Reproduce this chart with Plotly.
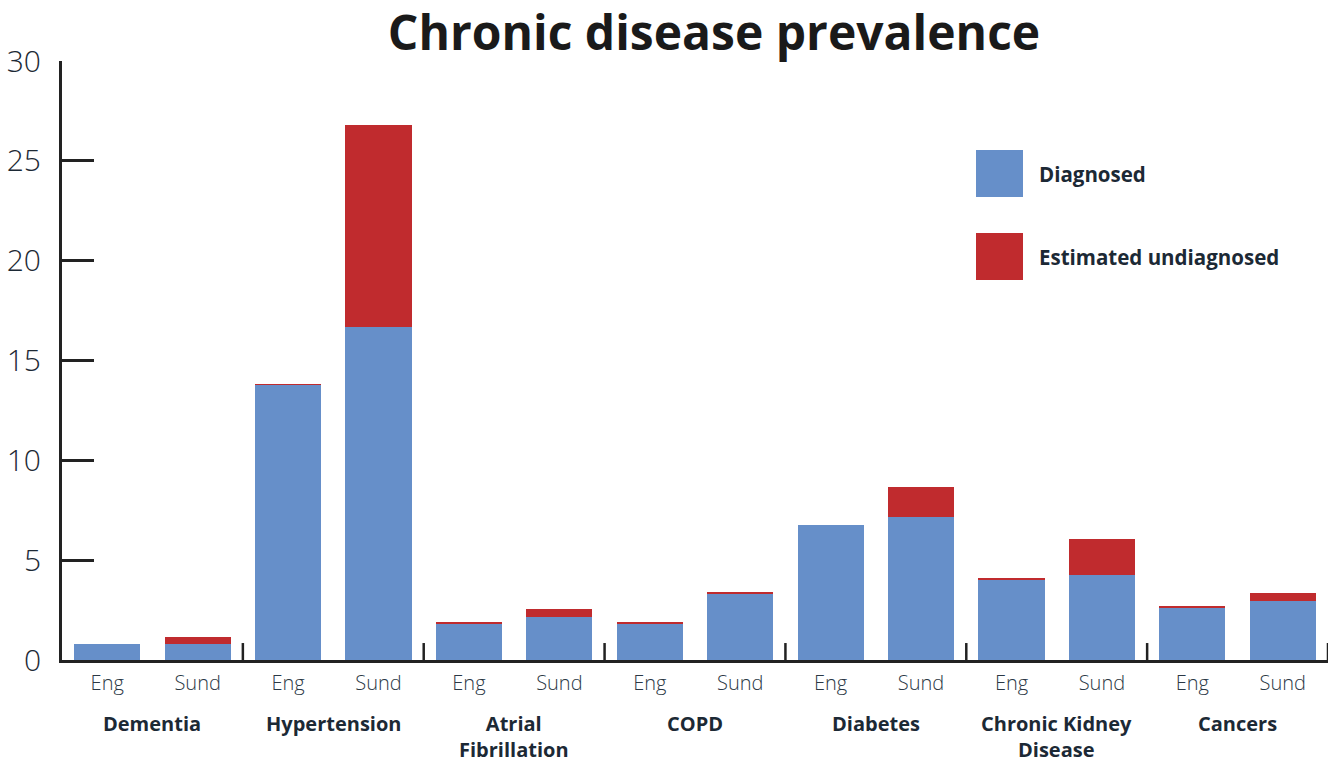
import plotly.graph_objects as go

groups = ["Dementia", "Hypertension", "Atrial<br>Fibrillation", "COPD", "Diabetes",
          "Chronic Kidney<br>Disease", "Cancers"]
areas = ["Eng", "Sund"]
diagnosed = [0.8, 0.8, 13.8, 16.7, 1.85, 2.15, 1.85, 3.3, 6.75, 7.15, 4.05, 4.25, 2.65, 2.95]
undiagnosed = [0.0, 0.35, 0.01, 10.1, 0.01, 0.4, 0.01, 0.12, 0.0, 1.5, 0.01, 1.8, 0.01, 0.4]
yticks = [0, 5, 10, 15, 20, 25, 30]

BLUE = "#668FC9"
RED = "#C02B2E"
INK = "#1c2935"
AXIS = "#222222"
FONT = "Open Sans"

n = len(groups) * len(areas)
xs = list(range(n))
labels = [areas[i % 2] for i in xs]

fig = go.Figure()
fig.add_trace(go.Bar(x=xs, y=diagnosed, name="Diagnosed", marker=dict(color=BLUE, line=dict(width=0)),
                     width=0.73))
fig.add_trace(go.Bar(x=xs, y=undiagnosed, name="Estimated undiagnosed",
                     marker=dict(color=RED, line=dict(width=0)), width=0.73))

shapes = []
for g in range(len(groups)):
    xb = 2 * g + 1.5
    shapes.append(dict(type="line", xref="x", yref="y", x0=xb, x1=xb, y0=0, y1=0.85,
                       line=dict(color=AXIS, width=2.5)))
annotations = []
for g, name in enumerate(groups):
    annotations.append(dict(x=2 * g + 0.5, xref="x", y=-0.080, yref="paper", text="<b>" + name + "</b>",
                            showarrow=False, yanchor="top", xanchor="center",
                            font=dict(family=FONT, size=20, color=INK)))

leg = [("Diagnosed", BLUE, 150), ("Estimated undiagnosed", RED, 233)]
L, T, W, H = 62, 61, 1338 - 62 - 10, 762 - 61 - 102
for text, col, top in leg:
    shapes.append(dict(type="rect", xref="paper", yref="paper",
                       x0=(976 - L) / W, x1=(1023 - L) / W,
                       y0=1 - (top + 47 - T) / H, y1=1 - (top - T) / H,
                       fillcolor=col, line=dict(width=0)))
    annotations.append(dict(x=(1037 - L) / W, xref="paper", y=1 - (top + 23.5 - T) / H, yref="paper",
                            text="<b>" + text + "</b>", showarrow=False, xanchor="left", yanchor="middle",
                            font=dict(family=FONT, size=20.5, color=INK)))

fig.update_layout(
    barmode="stack",
    width=1338, height=762,
    margin=dict(l=62, r=10, t=61, b=102),
    paper_bgcolor="white", plot_bgcolor="white",
    showlegend=False,
    title=dict(text="<b>Chronic disease prevalence</b>", x=(714 - L) / W, xref="paper", xanchor="center",
               y=1 - 33 / 762, yref="container", yanchor="middle",
               font=dict(family=FONT, size=48, color="#1a1a1a")),
    shapes=shapes, annotations=annotations,
    bargap=0,
)
fig.update_xaxes(range=[-0.5, n - 0.5], tickvals=xs, ticktext=labels, showgrid=False, zeroline=False,
                 showline=True, linecolor=AXIS, linewidth=3, ticks="", ticklabelstandoff=3,
                 tickfont=dict(family=FONT, size=20, color="#2b3845", weight=300))
fig.update_yaxes(range=[0, 30], tickvals=yticks, showgrid=False, zeroline=False, showline=True,
                 linecolor=AXIS, linewidth=3, ticks="inside", ticklen=32, tickwidth=2.5, tickcolor=AXIS,
                 ticklabelstandoff=12, automargin=False,
                 tickfont=dict(family=FONT, size=30, color=INK, weight=300))

fig.write_html("out.html", config={"displayModeBar": False},
               post_script="document.body.style.margin='0px';")
